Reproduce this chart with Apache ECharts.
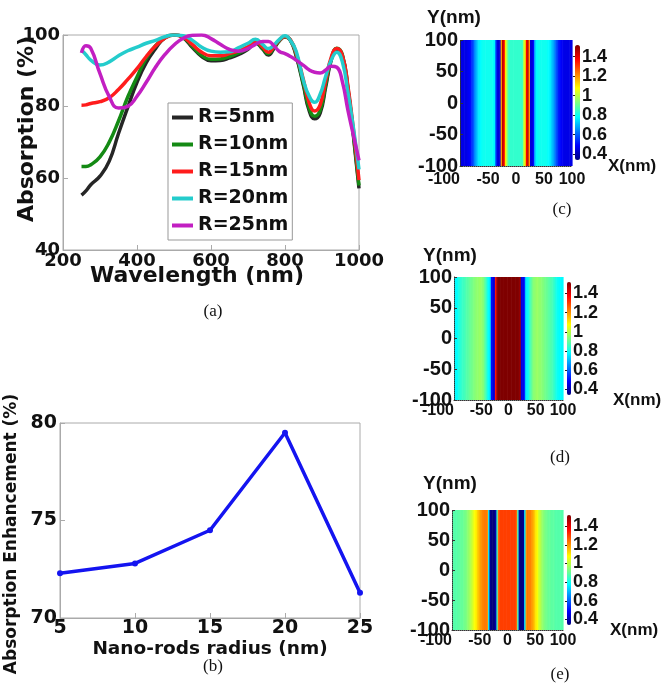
<!DOCTYPE html>
<html>
<head>
<meta charset="utf-8">
<script src="https://cdn.jsdelivr.net/npm/echarts@6/dist/echarts.min.js"></script>
<style>
html,body{margin:0;padding:0;background:#fff;}
#chart{width:665px;height:683px;}
</style>
</head>
<body>
<div id="chart"></div>
<script>
// ---------- Panel (a): absorption spectra ----------
const wavelength = [250, 262, 275, 300, 325, 350, 375, 400, 425, 450, 475, 500, 525, 550, 575, 600, 625, 650, 675, 700, 720, 740, 755, 770, 785, 800, 815, 830, 850, 865, 880, 895, 910, 925, 940, 955, 970, 985, 1000];
const absR5  = [55.3, 56.5, 58.2, 60.6, 64.8, 72.5, 79.8, 86.8, 92.3, 96.2, 99.2, 100, 99.2, 96.5, 94.0, 92.8, 92.9, 93.6, 94.6, 96.0, 97.8, 96.0, 94.4, 96.2, 98.4, 99.5, 98.4, 94.2, 85.8, 79.0, 76.6, 78.2, 85.5, 93.0, 96.0, 94.2, 84.8, 71.8, 57.2];
const absR10 = [63.3, 63.3, 63.8, 66.0, 70.1, 76.0, 82.7, 88.3, 93.5, 97.0, 99.2, 100, 99.3, 96.8, 94.3, 93.2, 93.3, 94.0, 95.0, 96.3, 98.0, 96.2, 94.8, 96.5, 98.5, 99.5, 98.5, 94.5, 86.3, 79.7, 77.3, 79.0, 86.2, 93.3, 96.3, 94.5, 85.2, 72.3, 58.0];
const absR15 = [80.4, 80.5, 80.9, 81.4, 82.5, 84.8, 87.6, 90.6, 94.0, 96.9, 99.1, 100, 99.4, 97.3, 95.2, 94.2, 94.2, 94.8, 95.6, 96.7, 98.2, 96.6, 95.2, 96.8, 98.6, 99.6, 98.6, 95.0, 87.4, 81.2, 78.8, 80.5, 87.3, 93.8, 96.2, 94.3, 85.8, 73.5, 59.5];
const absR20 = [95.8, 94.5, 93.0, 91.6, 92.5, 94.2, 95.6, 96.6, 97.7, 98.5, 99.5, 100, 99.8, 98.5, 96.6, 95.5, 95.2, 95.3, 96.5, 97.7, 98.8, 97.3, 96.2, 97.2, 98.8, 99.8, 98.4, 95.5, 87.2, 83.0, 81.2, 83.5, 88.5, 93.0, 95.2, 92.5, 84.0, 74.0, 62.5];
const absR25 = [95.0, 97.0, 96.3, 89.2, 82.8, 79.6, 80.1, 82.9, 86.8, 91.0, 94.5, 97.2, 99.1, 99.9, 100, 99.0, 97.4, 96.0, 95.5, 96.2, 97.4, 98.2, 98.2, 97.0, 95.4, 94.8, 94.0, 93.0, 91.5, 90.3, 89.6, 89.4, 90.2, 91.3, 91.0, 87.0, 79.0, 72.0, 65.0];
const seriesNamesA = ['R=5nm', 'R=10nm', 'R=15nm', 'R=20nm', 'R=25nm'];
const xTicksA = [200, 400, 600, 800, 1000];
const yTicksA = [40, 60, 80, 100];

// ---------- Panel (b): enhancement vs radius ----------
const radius = [5, 10, 15, 20, 25];
const enhancement = [72.3, 72.8, 74.5, 79.5, 71.3];

// ---------- Panels (c)(d)(e): field profiles (uniform along Y) ----------
// columns of 2.5 nm from X=-100 to X=100
const fieldC = [0.46,0.46,0.46,0.46,0.46,0.47,0.48,0.50,0.54,0.59,
                0.64,0.69,0.73,0.76,0.78,0.79,0.80,0.80,0.80,0.80,
                0.80,0.80,0.80,0.79,0.77,0.62,0.46,0.44,0.45,1.20,
                1.45,1.38,1.10,0.98,0.86,0.84,0.84,0.84,0.84,0.84,
                0.84,0.84,0.84,0.84,0.86,0.98,1.10,1.38,1.45,1.20,
                0.45,0.44,0.50,0.70,0.78,0.79,0.80,0.80,0.80,0.80,
                0.80,0.80,0.79,0.78,0.76,0.73,0.69,0.65,0.60,0.56,
                0.52,0.50,0.48,0.47,0.46,0.46,0.46,0.46,0.46,0.46];
const fieldD = [0.78,0.78,0.79,0.81,0.83,0.84,0.85,0.86,0.87,0.88,
                0.89,0.90,0.91,0.92,0.93,0.94,0.95,0.95,0.96,0.96,
                0.95,0.93,0.90,0.86,0.81,0.78,0.76,0.50,0.45,0.45,
                1.35,1.48,1.52,1.52,1.52,1.52,1.52,1.52,1.52,1.52,
                1.52,1.52,1.52,1.52,1.52,1.52,1.52,1.52,1.48,0.46,
                0.45,0.50,0.72,0.77,0.80,0.84,0.88,0.92,0.94,0.95,
                0.96,0.96,0.95,0.95,0.94,0.93,0.92,0.91,0.90,0.89,
                0.88,0.87,0.86,0.84,0.82,0.80,0.79,0.78,0.78,0.78];
const fieldE = [0.88,0.88,0.88,0.88,0.89,0.89,0.90,0.90,0.91,0.92,
                0.93,0.95,0.97,0.99,1.02,1.05,1.08,1.10,1.13,1.16,
                1.19,1.21,1.22,1.23,1.24,1.20,0.75,0.36,0.34,0.34,
                0.34,0.40,0.85,1.25,1.30,1.30,1.30,1.30,1.30,1.30,
                1.30,1.30,1.30,1.30,1.30,1.30,1.25,0.85,0.38,0.34,
                0.34,0.36,0.75,1.20,1.24,1.23,1.22,1.20,1.17,1.14,
                1.10,1.07,1.03,1.00,0.97,0.95,0.93,0.92,0.91,0.90,
                0.90,0.89,0.89,0.89,0.88,0.88,0.88,0.88,0.88,0.88];
const fieldXMin = -100, fieldColWidth = 2.5;
const fieldTicks = [-100, -50, 0, 50, 100];
const colorbarTicks = [0.4, 0.6, 0.8, 1, 1.2, 1.4];
const fieldMin = 0.34, fieldMax = 1.52;

// ---------- build ----------
const jet = ['#00007F','#0000FF','#007FFF','#00FFFF','#7FFF7F','#FFFF00','#FF7F00','#FF0000','#7F0000'];
const colorsA = ['#262626', '#148a14', '#ff1c1c', '#24cccc', '#c21fc2'];
const spectra = [absR5, absR10, absR15, absR20, absR25];

function zip(xs, ys) { return xs.map((x, i) => [x, ys[i]]); }
function columns(profile) {
  return profile.map((v, i) => [fieldXMin + i * fieldColWidth, fieldXMin + (i + 1) * fieldColWidth, v]);
}
const plain = (v) => String(v);

const FA = 'DejaVu Sans';
const FH = 'Liberation Sans';
const boldA = (size) => ({ fontFamily: FA, fontWeight: 'bold', fontSize: size, color: '#111' });
const boldH = (size) => ({ fontFamily: FH, fontWeight: 'bold', fontSize: size, color: '#111' });

const grids = [
  { left: 63, top: 35, width: 296, height: 215 },   // a
  { left: 60, top: 423, width: 300, height: 195 },  // b
  { left: 460, top: 40, width: 112, height: 126 },  // c
  { left: 575, top: 45, width: 5, height: 115 },    // c colorbar
  { left: 454, top: 277, width: 109, height: 123 }, // d
  { left: 567, top: 282, width: 4, height: 113 },   // d colorbar
  { left: 452, top: 510, width: 111, height: 120 }, // e
  { left: 567, top: 515, width: 4, height: 110 }    // e colorbar
].map((g, i) => Object.assign({
  show: i < 2, borderColor: '#aaa', borderWidth: 1, containLabel: false, outerBoundsMode: 'none'
}, g));

function boxAxis(gi, min, max, interval, name, gap, fs, nfs, pad, margin) {
  return {
    type: 'value', gridIndex: gi, min, max, interval,
    axisLine: { show: true, onZero: false, lineStyle: { color: '#aaa' } },
    axisTick: { show: true, inside: true, length: 5, lineStyle: { color: '#aaa' } },
    splitLine: { show: false },
    axisLabel: Object.assign(boldA(fs), { margin, hideOverlap: false, showMinLabel: true, showMaxLabel: true, formatter: plain }),
    name, nameLocation: 'middle', nameGap: gap, nameMoveOverlap: false,
    nameTextStyle: Object.assign(boldA(nfs), { padding: pad })
  };
}
function heatX(gi, gap, padTop, margin) {
  return {
    type: 'value', gridIndex: gi, min: -100, max: 100, interval: 50, z: 5,
    axisLine: { show: true, onZero: false, lineStyle: { color: '#333', type: 'dotted' } },
    axisTick: { show: false },
    splitLine: { show: false },
    axisLabel: Object.assign(boldH(16), {
      margin, hideOverlap: false, showMinLabel: true, showMaxLabel: true,
      alignMinLabel: 'right', formatter: plain
    }),
    name: 'X(nm)', nameLocation: 'end', nameGap: gap, nameMoveOverlap: false,
    nameTextStyle: Object.assign(boldH(17), { align: 'left', padding: [padTop, 0, 0, 0] })
  };
}
function heatY(gi, gap, padRight) {
  return {
    type: 'value', gridIndex: gi, min: -100, max: 100, interval: 50, z: 5,
    axisLine: { show: true, onZero: false, lineStyle: { color: '#333', type: 'dotted' } },
    axisTick: { show: true, inside: true, length: 3, lineStyle: { color: '#333' } },
    splitLine: { show: false },
    axisLabel: Object.assign(boldH(20), { margin: 2, hideOverlap: false, showMinLabel: true, showMaxLabel: true, formatter: plain }),
    name: 'Y(nm)', nameLocation: 'end', nameGap: gap, nameMoveOverlap: false,
    nameTextStyle: Object.assign(boldH(19), { align: 'center', padding: [0, padRight, 0, 0] })
  };
}
function cbarX(gi) { return { type: 'value', gridIndex: gi, show: false, min: 0, max: 1 }; }
function cbarY(gi) {
  return {
    type: 'value', gridIndex: gi, min: fieldMin, max: fieldMax, position: 'right', z: 10,
    axisLine: { show: false },
    axisTick: { show: true, inside: true, length: 2, customValues: colorbarTicks, lineStyle: { color: '#222' } },
    splitLine: { show: false },
    axisLabel: Object.assign(boldH(18), { margin: 2, hideOverlap: false, customValues: colorbarTicks, formatter: plain })
  };
}

const xAxes = [
  boxAxis(0, xTicksA[0], xTicksA[xTicksA.length - 1], 200, 'Wavelength (nm)', 15, 18, 22, [0, 28, 0, 0], 2),
  boxAxis(1, 5, 25, 5, 'Nano-rods radius (nm)', 22, 19, 18.5, [0, 0, 0, 0], 1),
  heatX(2, 36, 28, 6), cbarX(3),
  heatX(4, 50, 23, 3), cbarX(5),
  heatX(6, 47, 23, 3), cbarX(7)
];
const yAxes = [
  boxAxis(0, yTicksA[0], yTicksA[yTicksA.length - 1], 20, 'Absorption (%)', 25, 18, 22, [0, 0, 0, 27], 3),
  boxAxis(1, 70, 80, 5, 'Absorption Enhancement (%)', 40, 19, 17, [0, 27, 0, 0], 3),
  heatY(2, 13, 12), cbarY(3),
  heatY(4, 12, 8), cbarY(5),
  heatY(6, 17, 4), cbarY(7)
];

function renderStripe(params, api) {
  const a = api.coord([api.value(0), 100]);
  const b = api.coord([api.value(1), -100]);
  return {
    type: 'rect',
    shape: { x: a[0], y: a[1], width: b[0] - a[0] + 0.6, height: b[1] - a[1] },
    style: { fill: api.visual('color') }
  };
}

const series = [];
spectra.forEach((vals, i) => {
  series.push({
    type: 'line', name: seriesNamesA[i], xAxisIndex: 0, yAxisIndex: 0,
    data: zip(wavelength, vals), smooth: true, showSymbol: false,
    lineStyle: { width: 3.5, color: colorsA[i] }, itemStyle: { color: colorsA[i] }
  });
});
series.push({
  type: 'line', name: 'Enhancement', xAxisIndex: 1, yAxisIndex: 1,
  data: zip(radius, enhancement), symbol: 'circle', symbolSize: 6,
  lineStyle: { width: 3.5, color: '#1414f0' }, itemStyle: { color: '#1414f0' }
});
[[fieldC, 2], [fieldD, 4], [fieldE, 6]].forEach(([prof, gi]) => {
  series.push({
    type: 'custom', xAxisIndex: gi, yAxisIndex: gi, renderItem: renderStripe,
    encode: { x: [0, 1] }, data: columns(prof), silent: true
  });
});

function vmap(si, left, top, w, h) {
  return {
    type: 'continuous', seriesIndex: si, dimension: 2, min: fieldMin, max: fieldMax,
    calculable: false, hoverLink: false, show: true, left, top, itemWidth: w, itemHeight: h,
    padding: 0, text: null, inRange: { color: jet }, textStyle: { color: 'transparent' }
  };
}

const captionStyle = { fontFamily: 'Liberation Serif', fontSize: 17, fill: '#111', align: 'center', verticalAlign: 'middle' };
const captions = [['(a)', 213, 312], ['(b)', 213, 667], ['(c)', 562, 210], ['(d)', 560, 458], ['(e)', 560, 675]];

const option = {
  animation: false,
  backgroundColor: '#fff',
  grid: grids,
  xAxis: xAxes,
  yAxis: yAxes,
  legend: {
    data: seriesNamesA, orient: 'vertical', left: 168, top: 103,
    padding: [5, 4, 5, 4], itemGap: 8, itemWidth: 21, itemHeight: 4, icon: 'rect',
    borderColor: '#999', borderWidth: 1, borderRadius: 0, backgroundColor: '#fff',
    textStyle: boldA(19), selectedMode: false
  },
  visualMap: [vmap(6, 575, 45, 5, 115), vmap(7, 567, 282, 4, 113), vmap(8, 567, 515, 4, 110)],
  series,
  graphic: captions.map(([t, x, y]) => ({ type: 'text', x, y, style: Object.assign({ text: t }, captionStyle) }))
};

const chart = echarts.init(document.getElementById('chart'), null, { renderer: 'canvas' });
chart.setOption(option);
</script>
</body>
</html>
